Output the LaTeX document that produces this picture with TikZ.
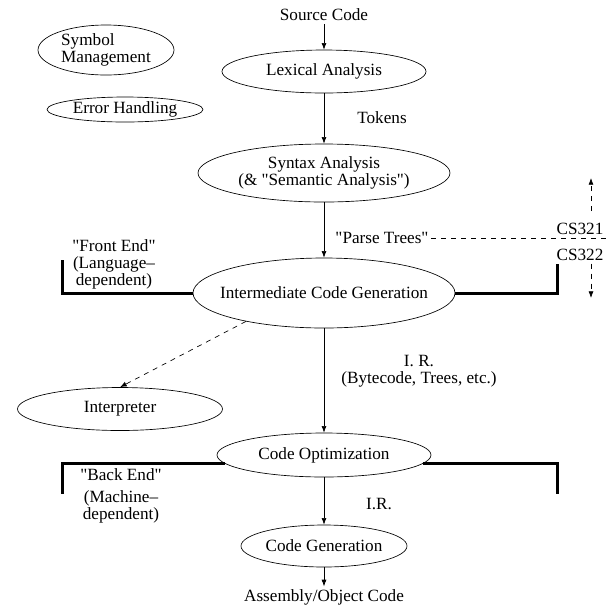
\documentclass[tikz,border=0pt]{standalone}
\usepackage{fontspec}
\setmainfont{Liberation Serif}
\usetikzlibrary{arrows.meta,shapes.geometric}
\newcommand{\sq}[1]{\textquotedbl#1\textquotedbl}

\begin{document}
\begin{tikzpicture}
    [x=0.6pt, y=-0.6pt, >={Latex[length=4pt,width=3pt]},
     every node/.style={font=\fontsize{10.3pt}{10.2pt}\selectfont},
     stage/.style={ellipse, draw, inner sep=0pt},
     txt/.style={align=center, inner sep=1.5pt},
     bracket/.style={line width=1.8pt}]
    \useasboundingbox (0,0) rectangle (610,606);
    % side boxes
    \node[stage, minimum width=81.6pt, minimum height=30pt, label={[align=left]center:Symbol\\Management}] (sym) at (106,50) {};
    \node[stage, minimum width=93.6pt, minimum height=15pt, label=center:Error Handling] (err) at (125,109.5) {};
    % main chain
    \node[txt] (src) at (324,15) {Source Code};
    \node[stage, minimum width=122.4pt, minimum height=25.8pt, label=center:Lexical Analysis] (lex) at (324,71.5) {};
    \node[stage, minimum width=151.2pt, minimum height=34.8pt, label={[align=center]center:Syntax Analysis\\(\& \sq{Semantic Analysis})}] (syn) at (324,173) {};
    \node[stage, minimum width=157.2pt, minimum height=42pt, label=center:Intermediate Code Generation] (inter) at (324,293) {};
    \node[stage, minimum width=123pt, minimum height=25.8pt, label=center:Interpreter] (interp) at (120,409) {};
    \node[stage, minimum width=128.4pt, minimum height=26.4pt, label=center:Code Optimization] (opt) at (324,455) {};
    \node[stage, minimum width=99.6pt, minimum height=25.2pt, label=center:Code Generation] (gen) at (324,546) {};
    \node[txt] (asm) at (324,597) {Assembly/Object Code};
    \draw[->] (src) -- (lex);
    \draw[->] (lex) -- (syn);
    \draw[->] (syn) -- (inter);
    \draw[->] (inter) -- (opt);
    \draw[->] (opt) -- (gen);
    \draw[->] (gen) -- (asm);
    \draw[->, dashed] (inter.200) -- (interp.north);
    % edge labels
    \node[txt] (tok) at (382,118) {Tokens};
    \node[txt] (ptree) at (382,238) {\sq{Parse Trees}};
    \node[txt] (irb) at (419,371) {I. R.\\(Bytecode, Trees, etc.)};
    \node[txt] (ir) at (379,504) {I.R.};
    % course split
    \coordinate (rim) at (610,238);
    \draw[dashed] (ptree) -- (rim);
    \node[txt] (cs1) at (580,229) {CS321};
    \node[txt] (cs2) at (580,255) {CS322};
    \coordinate (uptail) at (591,211);
    \coordinate (uphead) at (591,178);
    \coordinate (dnhead) at (591,298);
    \draw[->, dashed] (uptail) -- (uphead);
    \draw[->, dashed] (cs2.south -| dnhead) -- (dnhead);
    % front end / back end
    \coordinate (fel) at (62,260);
    \coordinate (fer) at (557,264);
    \coordinate (bel) at (62,494);
    \coordinate (ber) at (557,494);
    \draw[bracket] (inter.west) -| (fel);
    \draw[bracket] (inter.east) -| (fer);
    \draw[bracket] (opt.185) -| (bel);
    \draw[bracket] (opt.-5) -| (ber);
    \node[txt] (fe) at (114,264) {\sq{Front End}\\(Language--\\dependent)};
    \node[txt] (be) at (121,496) {\sq{Back End}\\[3pt](Machine--\\dependent)};
\end{tikzpicture}
\end{document}
